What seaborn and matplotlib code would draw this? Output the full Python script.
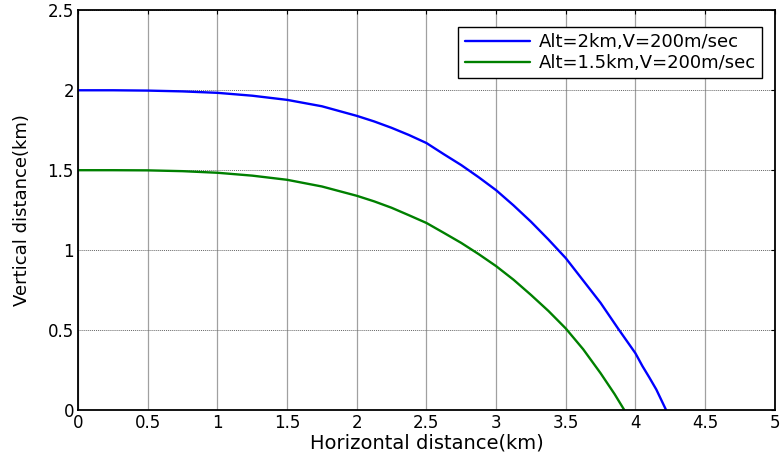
import pandas as pd
import seaborn as sns
import matplotlib.pyplot as plt

# curve values (km)
x_alt2 = [0, 0.25, 0.5, 0.75, 1, 1.25, 1.5, 1.75, 2, 2.125, 2.25, 2.375, 2.5, 2.625,
          2.75, 2.875, 3, 3.125, 3.25, 3.375, 3.5, 3.625, 3.75, 3.875, 4, 4.05, 4.1,
          4.15, 4.22]
y_alt2 = [2.0, 2.0, 1.998, 1.993, 1.984, 1.966, 1.94, 1.90, 1.84, 1.805, 1.765, 1.72,
          1.67, 1.60, 1.532, 1.456, 1.375, 1.28, 1.178, 1.067, 0.95, 0.81, 0.67,
          0.51, 0.355, 0.275, 0.203, 0.128, 0.0]

x_alt15 = [0, 0.25, 0.5, 0.75, 1, 1.25, 1.5, 1.75, 2, 2.125, 2.25, 2.375, 2.5, 2.625,
           2.75, 2.875, 3, 3.125, 3.25, 3.375, 3.5, 3.625, 3.75, 3.85, 3.92]
y_alt15 = [1.5, 1.5, 1.499, 1.494, 1.484, 1.466, 1.44, 1.398, 1.34, 1.305, 1.265, 1.218,
           1.17, 1.108, 1.045, 0.975, 0.9, 0.815, 0.72, 0.62, 0.51, 0.38, 0.23, 0.1,
           0.0]

labels = ["Alt=2km,V=200m/sec", "Alt=1.5km,V=200m/sec"]
x_ticks = [0, 0.5, 1, 1.5, 2, 2.5, 3, 3.5, 4, 4.5, 5]
y_ticks = [0, 0.5, 1, 1.5, 2, 2.5]

df = pd.concat([
    pd.DataFrame({"x": x_alt2, "y": y_alt2, "case": labels[0]}),
    pd.DataFrame({"x": x_alt15, "y": y_alt15, "case": labels[1]}),
])

sns.set_style("white")
plt.rcParams["font.family"] = ["DejaVu Sans"]
plt.rcParams["text.color"] = "black"
plt.rcParams["axes.labelcolor"] = "black"
plt.rcParams["xtick.color"] = "black"
plt.rcParams["ytick.color"] = "black"

fig = plt.figure(figsize=(7.81, 4.62), dpi=100)
ax = fig.add_axes([0.1, 0.1126, 0.892, 0.865])

sns.lineplot(data=df, x="x", y="y", hue="case", sort=False, estimator=None,
             palette=["#0000ff", "#008000"], linewidth=1.7, ax=ax)

ax.set_xlim(0, 5)
ax.set_ylim(0, 2.5)
ax.set_xticks(x_ticks)
ax.set_yticks(y_ticks)
ax.set_xticklabels([f"{t:g}" for t in x_ticks])
ax.set_yticklabels([f"{t:g}" for t in y_ticks])
ax.tick_params(direction="in", length=3, labelsize=12, colors="black", pad=3,
               top=True, right=True)

# matlab style grid: vertical lines look solid grey, horizontal ones dotted
ax.xaxis.grid(True, color="#a0a0a0", linewidth=0.9, linestyle="-")
ax.yaxis.grid(True, color="#666666", linewidth=0.7, linestyle=(0, (1, 1)))
for s in ax.spines.values():
    s.set_color("black")
    s.set_linewidth(1.3)

ax.set_xlabel("Horizontal distance(km)", fontsize=14, labelpad=1, color="black")
ax.set_ylabel("Vertical distance(km)", fontsize=13, labelpad=12, color="black")

leg = ax.legend(loc="upper right", bbox_to_anchor=(0.982, 0.958), fontsize=13,
                frameon=True, fancybox=False, framealpha=1, edgecolor="black",
                handlelength=3.6, handletextpad=0.5, borderpad=0.35, labelspacing=0.15,
                borderaxespad=0)
leg.get_frame().set_linewidth(1.0)
for t in leg.get_texts():
    t.set_color("black")

fig.savefig("out.png", dpi=100)
